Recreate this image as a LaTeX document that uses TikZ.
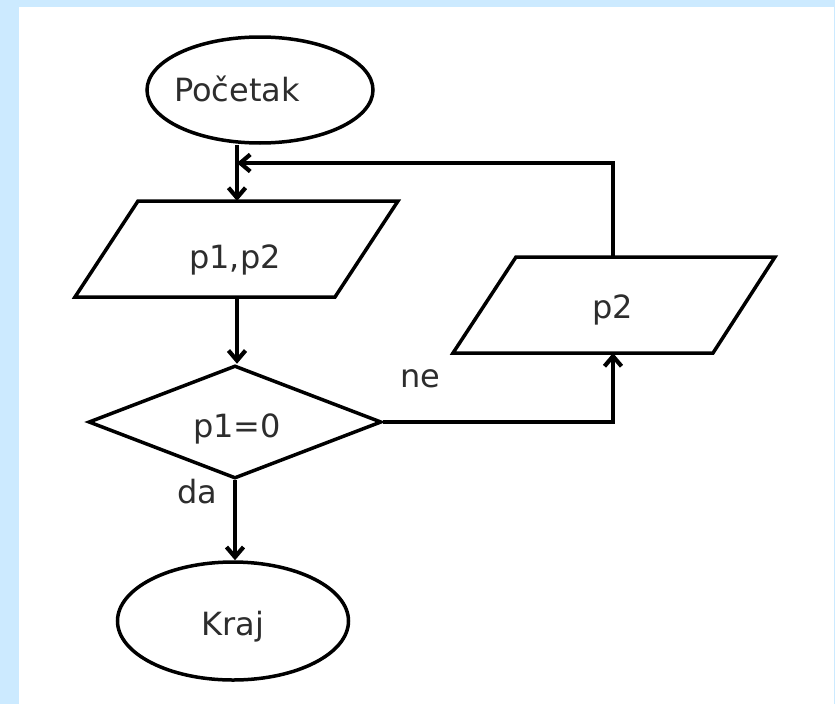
\documentclass[tikz,border=0pt]{standalone}
\usepackage{fontspec}
\setmainfont{DejaVu Sans}
\usetikzlibrary{shapes.geometric,arrows.meta}
\definecolor{bgblue}{RGB}{204,234,255}
\definecolor{txt}{RGB}{45,45,45}
\begin{document}
\begin{tikzpicture}[x=1pt,y=-1pt,
  lbl/.style={font=\fontsize{32}{38}\selectfont, text=txt, inner sep=0pt, anchor=base},
  term/.style={draw, ellipse, line width=3.5pt, minimum width=226pt, minimum height=106pt, inner sep=0pt},
  cond/.style={draw, diamond, line width=3.5pt, minimum width=293pt, minimum height=113pt, inner sep=0pt},
  io/.style={draw, line width=3.5pt, line join=miter},
  conn/.style={line width=3.2pt, -{Straight Barb[length=10pt,width=17pt,line width=4.2pt]}},
]
% background
\fill[bgblue] (0,0) rectangle (835,704);
\fill[white] (19,7) rectangle (834,704);
\useasboundingbox (0,0) rectangle (835,704);

% start terminal
\node[term] (start) at (260,90) {};
\node[lbl] (starttxt) at (237,101) {Početak};

% input p1,p2
\draw[io] (138,201) -- (398,201) -- (335,297) -- (75,297) -- cycle;
\node[lbl] (in1) at (235,268) {p1,p2};
\coordinate (in1top) at (237,201);
\coordinate (in1bot) at (237,297);

% decision
\node[cond] (dec) at (235,422) {};
\node[lbl] (dectxt) at (237,437) {p1=0};

% input p2
\draw[io] (516,257) -- (775,257) -- (713,353) -- (453,353) -- cycle;
\node[lbl] (in2) at (613,318) {p2};
\coordinate (in2top) at (613,257);
\coordinate (in2bot) at (613,353);

% end terminal
\node[term, minimum width=231pt, minimum height=118pt] (stop) at (233,621) {};
\node[lbl] (stoptxt) at (233,635) {Kraj};

% merge point of loop
\coordinate (merge) at (237,163);

% connectors
\draw[conn] (start.south -| in1top) -- (in1top);
\draw[conn] (in1bot) -- (dec.north -| in1bot);
\draw[conn] (dec.south) -- (dec.south |- stop.north);
\draw[conn, line width=4.8pt] (dec.east) -| (in2bot);
\draw[conn] (in2top) |- (merge);

% branch labels
\node[lbl] (da) at (197,503) {da};
\node[lbl] (ne) at (420,387) {ne};
\end{tikzpicture}
\end{document}
